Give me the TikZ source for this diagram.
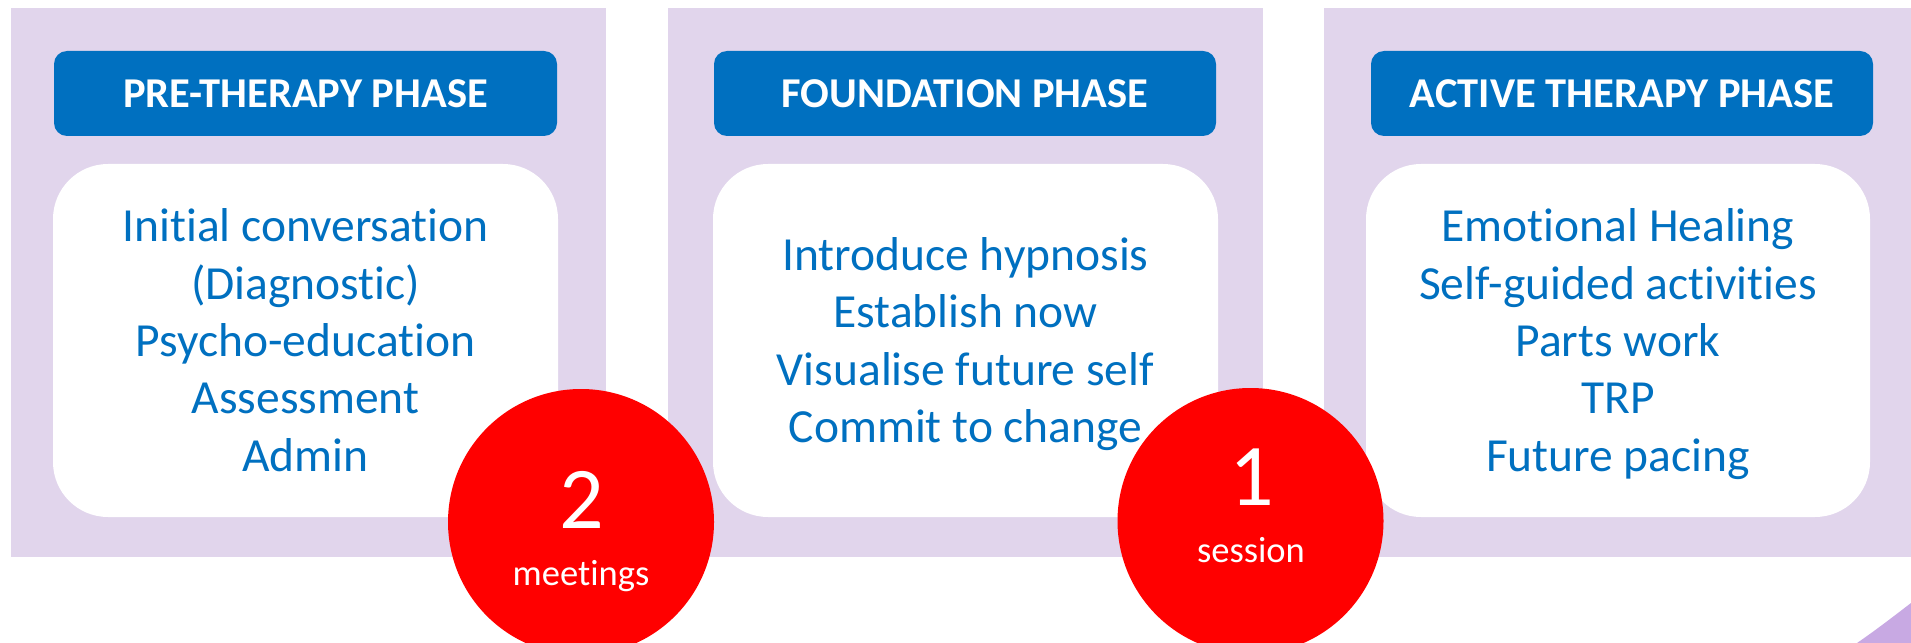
\documentclass[tikz,border=0pt]{standalone}
\usepackage{fontspec}
\setmainfont{Carlito}[RawFeature={-liga;-clig}]
\definecolor{lav}{HTML}{E1D5EC}
\definecolor{hblue}{HTML}{0070C0}
\definecolor{cred}{HTML}{FF0000}
\definecolor{cpurple}{HTML}{C8A9E3}
\tikzset{
 panel/.style={fill=lav},
 header/.style={fill=hblue, rounded corners=13bp},
 bodybox/.style={fill=white, rounded corners=55bp},
 headtext/.style={text=white, font=\fontsize{42.5bp}{50bp}\selectfont\bfseries, anchor=base, inner sep=0pt},
 bodytext/.style={text=hblue, font=\fontsize{47.5bp}{57bp}\selectfont, anchor=base, inner sep=0pt},
 badge/.style={circle, fill=cred, minimum size=266bp, inner sep=0pt},
 bignum/.style={text=white, font=\fontsize{88bp}{100bp}\selectfont, anchor=base, inner sep=0pt},
 smalltext/.style={text=white, font=\fontsize{36.5bp}{44bp}\selectfont, anchor=base, inner sep=0pt},
}
\begin{document}
\begin{tikzpicture}[x=1bp,y=-1bp]
\useasboundingbox (0,0) rectangle (1911,643);
\clip (0,0) rectangle (1911,643);
% panels
\fill[panel] (11,8) rectangle (606,557);
\fill[panel] (668,8) rectangle (1263,557);
\fill[panel] (1324,8) rectangle (1919,557);
% headers
\fill[header] (54,51) rectangle (557,136);
\fill[header] (714,51) rectangle (1216,136);
\fill[header] (1371,51) rectangle (1873,136);
% body boxes
\fill[bodybox] (53,164) rectangle (558,517);
\fill[bodybox] (713,164) rectangle (1218,517);
\fill[bodybox] (1366,164) rectangle (1870,517);
% header texts
\node[headtext] (h1) at (305.5,108) {PRE-THERAPY PHASE};
\node[headtext] (h2) at (965,108) {FOUNDATION PHASE};
\node[headtext] (h3) at (1622,108) {ACTIVE THERAPY PHASE};
% panel 1 body
\node[bodytext] (a1) at (305.5,242) {Initial conversation};
\node[bodytext] (a2) at (305.5,299.3) {(Diagnostic)};
\node[bodytext] (a3) at (305.5,356.6) {Psycho-education};
\node[bodytext] (a4) at (305.5,413.9) {Assessment};
\node[bodytext] (a5) at (305.5,471.2) {Admin};
% panel 2 body
\node[bodytext] (b1) at (965.5,270.5) {Introduce hypnosis};
\node[bodytext] (b2) at (965.5,327.8) {Establish now};
\node[bodytext] (b3) at (965.5,385.1) {Visualise future self};
\node[bodytext] (b4) at (965.5,442.4) {Commit to change};
% panel 3 body
\node[bodytext] (c1) at (1618,242) {Emotional Healing};
\node[bodytext] (c2) at (1618,299.3) {Self-guided activities};
\node[bodytext] (c3) at (1618,356.6) {Parts work};
\node[bodytext] (c4) at (1618,413.9) {TRP};
\node[bodytext] (c5) at (1618,471.2) {Future pacing};
% badges
\node[badge] (r1) at (581,522) {};
\node[badge] (r2) at (1250.5,521) {};
\node[bignum] (n1) at (582,528) {2};
\node[smalltext] (t1) at (581,585) {meetings};
\node[bignum] (n2) at (1252,505) {1};
\node[smalltext] (t2) at (1251,562) {session};
% corner shape
\fill[cpurple] (1857,643) .. controls (1876,630) and (1894,616) .. (1911,603) -- (1911,643) -- cycle;
\end{tikzpicture}
\end{document}
